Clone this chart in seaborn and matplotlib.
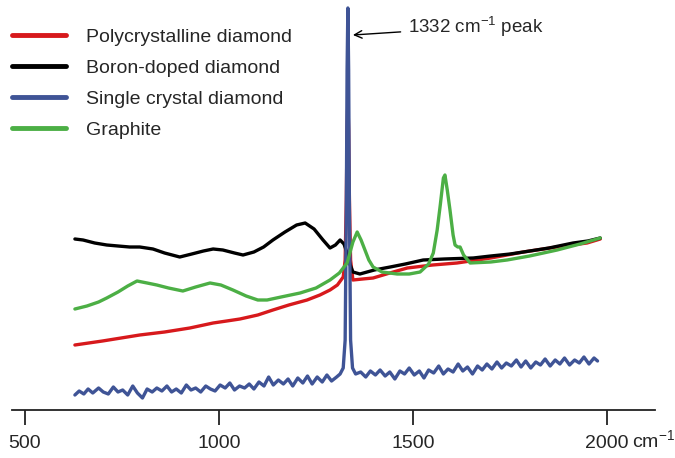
import seaborn as sns
import matplotlib.pyplot as plt
from matplotlib.transforms import blended_transform_factory

# Raman shift (cm-1) and intensity (arbitrary) for each sample
poly_x = [629, 700, 796, 860, 925, 985, 1020, 1054, 1100, 1139, 1180, 1227, 1260, 1286, 1305, 1320,
          1325, 1328, 1330, 1332, 1334, 1336, 1339, 1345, 1370, 1397, 1440, 1485, 1550, 1613, 1700,
          1784, 1870, 1948, 1982]
poly_y = [65, 69, 75, 78, 82, 87, 89, 91, 95, 100, 105, 110, 115, 120, 125, 133,
          150, 210, 280, 310, 280, 210, 150, 130, 131, 132, 137, 142, 145, 147, 152,
          158, 163, 167, 171]

boron_x = [629, 650, 680, 711, 740, 770, 796, 830, 860, 899, 930, 960, 985, 1010, 1040, 1062, 1090,
           1115, 1139, 1170, 1200, 1222, 1245, 1268, 1286, 1300, 1312, 1322, 1330, 1338, 1345, 1363,
           1400, 1441, 1480, 1526, 1580, 1655, 1700, 1750, 1784, 1850, 1912, 1950, 1982]
boron_y = [171, 170, 167, 165, 164, 163, 163, 161, 157, 153, 156, 159, 161, 160, 157, 155, 158,
           163, 170, 178, 185, 187, 181, 170, 162, 165, 170, 166, 157, 145, 138, 136,
           140, 143, 146, 150, 151, 152, 154, 156, 158, 162, 167, 169, 172]

single_x = [629, 640, 652, 663, 675, 690, 702, 715, 728, 740, 752, 765, 778, 790, 803, 815, 828, 840,
            853, 866, 878, 890, 903, 916, 928, 940, 953, 966, 978, 990, 1003, 1016, 1028, 1040, 1053,
            1066, 1078, 1090, 1103, 1116, 1128, 1140, 1153, 1166, 1178, 1190, 1203, 1216, 1228, 1240,
            1253, 1266, 1278, 1290, 1303, 1312, 1320, 1325, 1328, 1330, 1332, 1334, 1336, 1339, 1344,
            1352, 1365, 1378, 1390, 1403, 1415, 1428, 1440, 1453, 1466, 1478, 1490, 1503, 1516, 1528,
            1540, 1553, 1566, 1578, 1590, 1603, 1616, 1628, 1640, 1653, 1666, 1678, 1690, 1703, 1716,
            1728, 1740, 1753, 1766, 1778, 1790, 1803, 1816, 1828, 1840, 1853, 1866, 1878, 1890, 1903,
            1916, 1928, 1940, 1953, 1966, 1975]
single_y = [15, 19, 16, 21, 17, 22, 18, 16, 23, 18, 20, 15, 24, 17, 12, 21, 18, 22,
            19, 24, 18, 21, 17, 25, 20, 22, 18, 24, 21, 19, 25, 22, 27, 20, 24,
            22, 26, 21, 28, 24, 33, 25, 30, 26, 31, 24, 32, 27, 34, 26,
            33, 28, 35, 29, 33, 36, 42, 70, 200, 340, 402, 340, 200, 70, 42,
            36, 38, 33, 39, 35, 40, 34, 38, 31, 39, 36, 42, 35, 39, 32,
            40, 37, 44, 36, 41, 38, 46, 39, 43, 36, 44, 40, 46, 41, 48,
            42, 47, 44, 50, 43, 49, 42, 48, 45, 51, 44, 50, 46, 52, 45,
            50, 47, 53, 46, 52, 49]

graph_x = [629, 660, 690, 711, 740, 765, 789, 815, 840, 870, 907, 940, 977, 1005, 1036, 1070, 1100,
           1124, 1160, 1209, 1250, 1286, 1310, 1330, 1345, 1356, 1366, 1376, 1386, 1397, 1420, 1459,
           1490, 1518, 1540, 1552, 1562, 1570, 1578, 1582, 1588, 1595, 1603, 1608, 1615, 1621, 1630,
           1647, 1700, 1742, 1800, 1871, 1930, 1982]
graph_y = [101, 104, 108, 112, 118, 124, 129, 127, 125, 122, 119, 123, 127, 125, 120, 114, 110,
           110, 113, 117, 122, 130, 137, 147, 168, 178, 170, 160, 150, 143, 138, 136,
           136, 138, 146, 157, 180, 205, 232, 235, 220, 200, 175, 165, 163, 163, 155,
           147, 148, 150, 154, 160, 166, 172]

labels = ['Polycrystalline diamond', 'Boron-doped diamond', 'Single crystal diamond', 'Graphite']
colors = ['#d7191c', '#000000', '#3f5496', '#4caf45']
xtick_vals = [500, 1000, 1500, 2000]

sns.set_style('white')
plt.rcParams['font.family'] = ['Liberation Sans', 'DejaVu Sans']
plt.rcParams['mathtext.fontset'] = 'custom'
plt.rcParams['mathtext.rm'] = 'Liberation Sans'
plt.rcParams['mathtext.it'] = 'Liberation Sans:italic'
plt.rcParams['mathtext.bf'] = 'Liberation Sans:bold'

fig = plt.figure(figsize=(6.75, 4.58), dpi=100)
ax = fig.add_axes([12 / 675, 48 / 458, 643 / 675, 410 / 458])

series = [(poly_x, poly_y), (boron_x, boron_y), (single_x, single_y), (graph_x, graph_y)]
for (xs, ys), lab, col in zip(series, labels, colors):
    sns.lineplot(x=xs, y=ys, color=col, lw=2.4, label=lab, ax=ax)

ax.set_xlim(467, 2123)
ax.set_ylim(0, 410)

# only the bottom axis is shown
for side in ['left', 'top', 'right']:
    ax.spines[side].set_visible(False)
ax.spines['bottom'].set_color('#222222')
ax.spines['bottom'].set_linewidth(1.3)
ax.set_yticks([])
ax.set_xticks(xtick_vals)
ax.set_xticklabels([str(v) for v in xtick_vals])
ax.tick_params(axis='x', direction='out', length=11, width=1.3, color='#222222',
               labelsize=14, pad=7, bottom=True)

trans = blended_transform_factory(ax.transData, ax.transAxes)
ax.text(2063, -0.074, 'cm$^{-1}$', transform=trans, fontsize=14, ha='left', va='center')

ax.annotate('1332 cm$^{-1}$ peak', xy=(1345, 375), xytext=(1487, 383),
            fontsize=13.5, ha='left', va='center',
            arrowprops=dict(arrowstyle='->', color='black', lw=1.0, shrinkA=3, shrinkB=0))

leg = ax.legend(loc='upper left', bbox_to_anchor=(-0.006, 0.94), frameon=False, fontsize=14,
                handlelength=2.8, handletextpad=1.0, labelspacing=0.68, borderaxespad=0.0,
                borderpad=0.2)
for line in leg.get_lines():
    line.set_linewidth(3.5)

ax.set_xlabel('')
ax.set_ylabel('')
fig.savefig('out.png', dpi=100)
